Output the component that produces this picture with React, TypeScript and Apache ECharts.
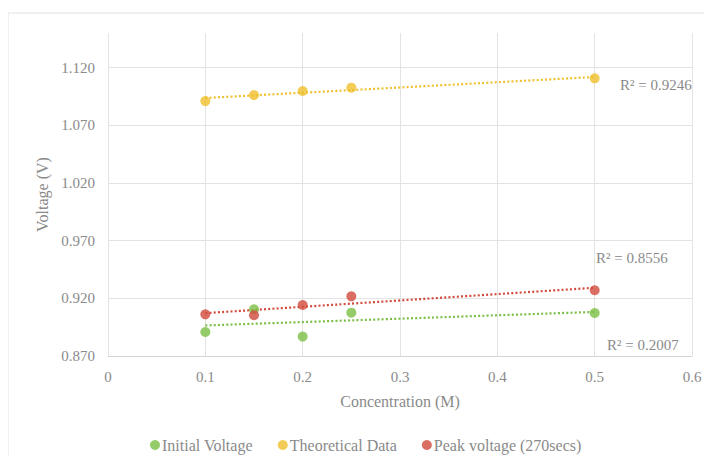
import React, { useEffect, useRef } from "react";
import * as echarts from "echarts";

// Molar concentration of each sample (M)
const concentration = [0.1, 0.15, 0.2, 0.25, 0.5];

// Measured and theoretical cell voltages (V)
const initialVoltage = [0.8908, 0.9105, 0.8868, 0.9076, 0.9073];
const theoreticalData = [1.091, 1.0962, 1.0997, 1.1026, 1.1107];
const peakVoltage = [0.9061, 0.9053, 0.9142, 0.9217, 0.927];

const seriesNames = ["Initial Voltage", "Theoretical Data", "Peak voltage (270secs)"];
const seriesColors = ["#7bbf44", "#efbf2c", "#d24a3c"];
const rSquaredLabels = ["R² = 0.2007", "R² = 0.9246", "R² = 0.8556"];

// Axis ranges and ticks
const xMin = 0;
const xMax = 0.6;
const xStep = 0.1;
const yMin = 0.87;
const yMax = 1.15;
const yStep = 0.05;

const FONT = "'Liberation Serif', 'DejaVu Serif', serif";
const TEXT_GREY = "#8a8a8a";

// Ordinary least-squares fit, evaluated at the first and last concentration
function linearTrend(xs: number[], ys: number[]): number[][] {
  const n = xs.length;
  const mx = xs.reduce((a, b) => a + b, 0) / n;
  const my = ys.reduce((a, b) => a + b, 0) / n;
  let sxy = 0;
  let sxx = 0;
  for (let i = 0; i < n; i++) {
    sxy += (xs[i] - mx) * (ys[i] - my);
    sxx += (xs[i] - mx) * (xs[i] - mx);
  }
  const slope = sxy / sxx;
  const intercept = my - slope * mx;
  const x0 = Math.min(...xs);
  const x1 = Math.max(...xs);
  return [
    [x0, intercept + slope * x0],
    [x1, intercept + slope * x1],
  ];
}

export default function App() {
  const ref = useRef<HTMLDivElement>(null);

  useEffect(() => {
    if (!ref.current) return;
    const chart = echarts.init(ref.current, null, { renderer: "svg" });

    const datasets = [initialVoltage, theoreticalData, peakVoltage];

    const trendSeries = datasets.map((ys, i) => ({
      name: seriesNames[i] + " trend",
      type: "line",
      data: linearTrend(concentration, ys),
      symbol: "none",
      silent: true,
      z: 2,
      lineStyle: { color: seriesColors[i], width: 2.2, type: [2, 2.2], cap: "butt" },
    }));

    const pointSeries = datasets.map((ys, i) => ({
      name: seriesNames[i],
      type: "scatter",
      data: concentration.map((x, j) => [x, ys[j]]),
      symbol: "circle",
      symbolSize: 10,
      z: 3,
      itemStyle: { color: seriesColors[i] },
    }));

    const rLabelPos = [
      { x: 607, y: 345 },
      { x: 620, y: 85 },
      { x: 596, y: 258 },
    ];

    chart.setOption({
      animation: false,
      backgroundColor: "#ffffff",
      textStyle: { fontFamily: FONT },
      grid: { left: 108, right: 20, top: 33, bottom: 108, containLabel: false },
      xAxis: {
        type: "value",
        min: xMin,
        max: xMax,
        interval: xStep,
        name: "Concentration (M)",
        nameLocation: "middle",
        nameGap: 37,
        nameTextStyle: { color: TEXT_GREY, fontSize: 16, fontFamily: FONT },
        axisLine: { show: true, lineStyle: { color: "#d6d6d6", width: 1 } },
        axisTick: { show: false },
        axisLabel: { color: TEXT_GREY, fontSize: 15, fontFamily: FONT, margin: 13 },
        splitLine: { show: true, lineStyle: { color: "#e3e3e3", width: 1 } },
      },
      yAxis: {
        type: "value",
        min: yMin,
        max: yMax,
        interval: yStep,
        name: "Voltage (V)",
        nameLocation: "middle",
        nameGap: 58,
        nameTextStyle: { color: TEXT_GREY, fontSize: 16, fontFamily: FONT },
        axisLine: { show: false },
        axisTick: { show: false },
        axisLabel: {
          color: TEXT_GREY,
          fontSize: 15,
          fontFamily: FONT,
          margin: 13,
          showMaxLabel: false,
          formatter: (v: number) => v.toFixed(3),
        },
        splitLine: { show: true, showMinLine: false, showMaxLine: false, lineStyle: { color: "#e3e3e3", width: 1 } },
      },
      legend: {
        data: seriesNames.map((name) => ({ name, icon: "circle" })),
        left: 145,
        top: 432,
        itemWidth: 10,
        itemHeight: 10,
        itemGap: 25,
        textStyle: { color: TEXT_GREY, fontSize: 16, fontFamily: FONT, padding: [0, 0, 0, -3] },
      },
      graphic: [
        {
          type: "rect",
          shape: { x: 8, y: 13, width: 720, height: 500 },
          style: { fill: "none", stroke: "#e2e2e2", lineWidth: 1 },
          silent: true,
          z: -1,
        },
        ...rSquaredLabels.map((text, i) => ({
          type: "text",
          x: rLabelPos[i].x,
          y: rLabelPos[i].y,
          style: {
            text,
            fill: TEXT_GREY,
            font: `15px ${FONT}`,
            verticalAlign: "middle",
          },
          silent: true,
        })),
      ],
      series: [...trendSeries, ...pointSeries],
    });

    return () => chart.dispose();
  }, []);

  return <div ref={ref} style={{ width: 712, height: 464, margin: -8 }} />;
}
